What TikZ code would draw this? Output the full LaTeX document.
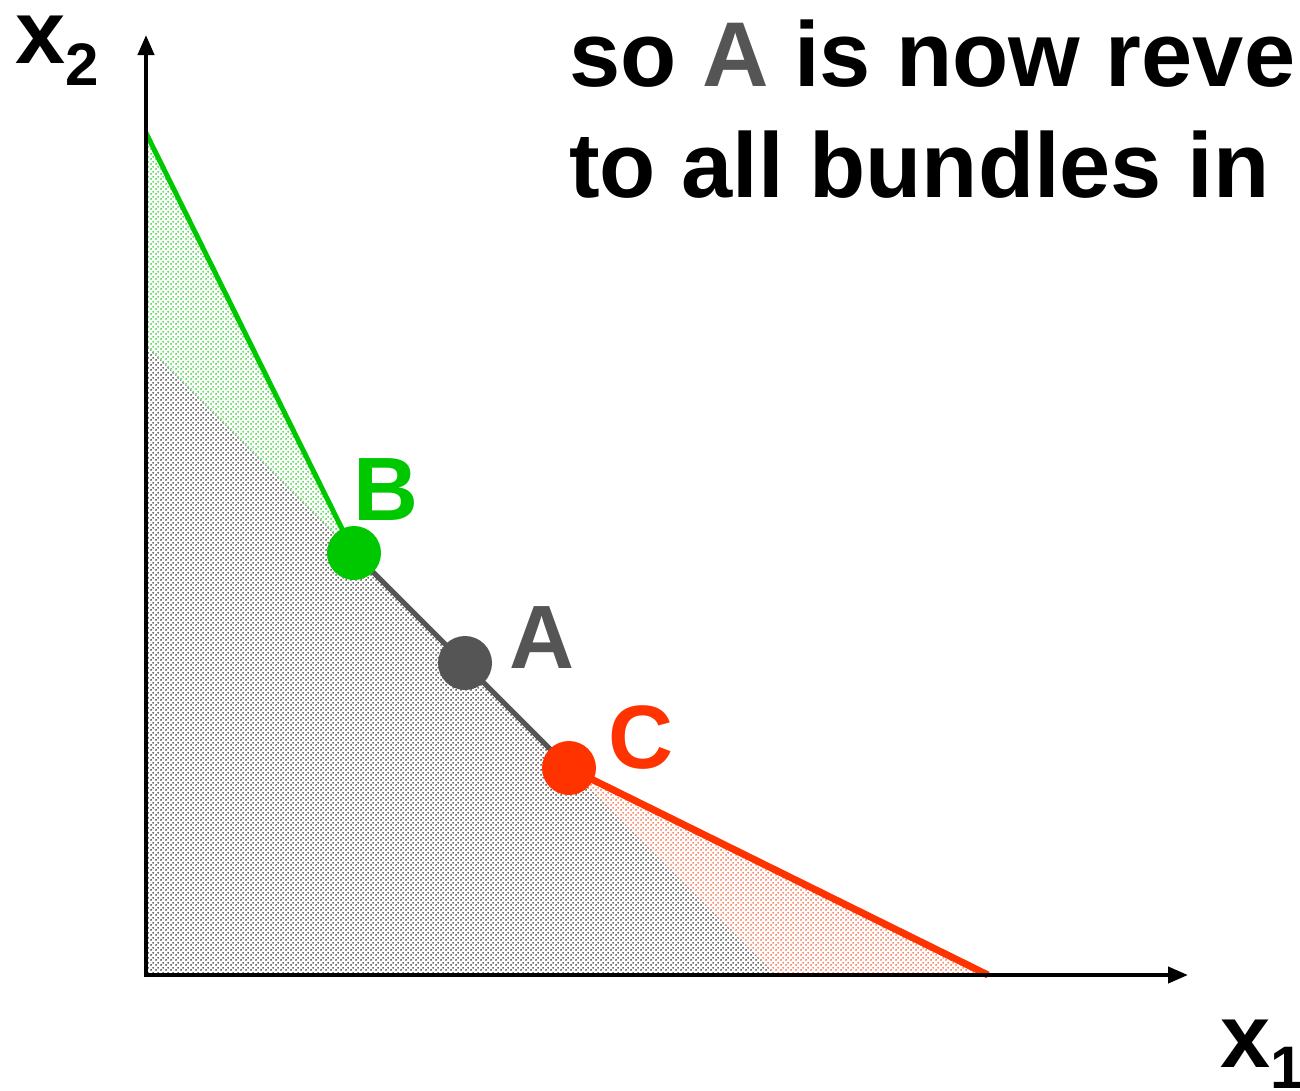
\documentclass[tikz,border=0pt]{standalone}
\usepackage{fontspec}
\setmainfont{Liberation Sans}
\usetikzlibrary{arrows.meta, patterns.meta}
\definecolor{bgreen}{RGB}{0,200,0}
\definecolor{cred}{RGB}{255,51,0}
\definecolor{agrey}{RGB}{85,85,85}
\tikzdeclarepattern{name=finedots, type=uncolored,
  bounding box={(0pt,0pt) and (5pt,5pt)}, tile size={(5pt,5pt)},
  code={\fill (1.25pt,1.25pt) circle (1.1pt); \fill (3.75pt,3.75pt) circle (1.1pt);}}
\tikzset{
  bundle/.style={circle,fill=#1,minimum size=54pt,inner sep=0pt},
  lbl/.style={anchor=base west,inner sep=0pt,font=\fontsize{90}{90}\selectfont\bfseries,text=#1},
}

\begin{document}
\begin{tikzpicture}[x=1pt,y=-1pt,>={Triangle[length=20pt,width=16pt]}]
  \useasboundingbox (0,0) rectangle (1300,1090);
  \coordinate (O) at (146,975);
  \coordinate (gtop) at (146,133);
  \coordinate (pB) at (354,553);
  \coordinate (pA) at (465,663);
  \coordinate (pC) at (569,768);
  \coordinate (rend) at (988,975);
  \coordinate (ytop) at (146,345);
  \coordinate (xend) at (776,975);
  % shaded sets
  \fill[pattern=finedots,pattern color=black!80] (O) -- (ytop) -- (xend) -- cycle;
  \fill[pattern=finedots,pattern color=bgreen!85] (gtop) -- (pB) -- (ytop) -- cycle;
  \fill[pattern=finedots,pattern color=cred!80] (pC) -- (rend) -- (xend) -- cycle;
  % budget lines
  \draw[bgreen,line width=5pt] (gtop) -- (pB);
  \draw[agrey,line width=5pt] (pB) -- (pC);
  \draw[cred,line width=7pt] (pC) -- (rend);
  % axes
  \draw[->,line width=4pt] (146,977) coordinate (y0) -- (146,35) coordinate (y1);
  \draw[->,line width=4pt] (144,975) coordinate (x0) -- (1188,975) coordinate (x1);
  \node[lbl=black](ylab) at (15,63){x\raisebox{-22pt}{\fontsize{60}{60}\selectfont 2}};
  \node[lbl=black](xlab) at (1220,1067){x\raisebox{-21pt}{\fontsize{60}{60}\selectfont 1}};
  % bundles
  \node[bundle=bgreen](B) at (pB){};
  \node[bundle=agrey](A) at (pA){};
  \node[bundle=cred](C) at (pC){};
  \node[lbl=bgreen](Blab) at (353,520){B};
  \node[lbl=agrey](Alab) at (509,668){A};
  \node[lbl=cred](Clab) at (608,768){C};
  \node[anchor=base west,inner sep=0pt,align=left,font=\fontsize{92}{111}\selectfont\bfseries](title) at (569,197){so \textcolor{agrey}{A} is now reve\\to all bundles in};
\end{tikzpicture}
\end{document}
